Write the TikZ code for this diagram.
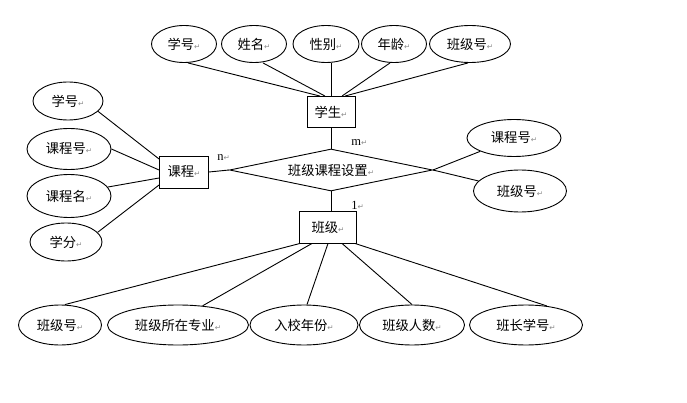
\documentclass[tikz,border=0pt]{standalone}
\usepackage{fontspec}
\setmainfont{Noto Sans CJK SC}
\newfontfamily\dejavu{DejaVu Sans}
\newfontfamily\serifl{Liberation Serif}
\usetikzlibrary{shapes.geometric}
\newcommand{\retmk}{{\fontsize{7.5}{8}\selectfont\dejavu\color{black!45}↵}}
\begin{document}
\begin{tikzpicture}[x=1pt,y=-1pt,line width=0.9pt,
  every node/.style={font=\fontsize{13.3}{16}\selectfont},
  attr/.style={ellipse,draw,inner sep=0pt},
  ent/.style={rectangle,draw,inner sep=0pt},
  rel/.style={diamond,draw,aspect=4.8,inner sep=0pt},
  card/.style={anchor=west,inner sep=0pt,font=\fontsize{12.5}{13}\selectfont\serifl}]
\useasboundingbox (0,0) rectangle (687,403);
% entities
\node[ent,minimum width=48pt,minimum height=31pt] (xs) at (331,112) {学生\retmk};
\node[ent,minimum width=49pt,minimum height=32pt] (kc) at (184,172) {课程\retmk};
\node[ent,minimum width=57pt,minimum height=32pt] (bj) at (328,227) {班级\retmk};
\node[rel,minimum width=203pt,minimum height=42pt] (sz) at (331,170) {班级课程设置\retmk};
% top attributes
\node[attr,minimum width=65pt,minimum height=37pt] (t1) at (184,44) {学号\retmk};
\node[attr,minimum width=65pt,minimum height=37pt] (t2) at (254,44) {姓名\retmk};
\node[attr,minimum width=66pt,minimum height=37pt] (t3) at (326,44) {性别\retmk};
\node[attr,minimum width=65pt,minimum height=37pt] (t4) at (394,44) {年龄\retmk};
\node[attr,minimum width=81pt,minimum height=37pt] (t5) at (470,44) {班级号\retmk};
% left attributes
\node[attr,minimum width=70pt,minimum height=38pt] (l1) at (68,101) {学号\retmk};
\node[attr,minimum width=84pt,minimum height=41pt] (l2) at (69,149) {课程号\retmk};
\node[attr,minimum width=84pt,minimum height=43pt] (l3) at (69,196) {课程名\retmk};
\node[attr,minimum width=72pt,minimum height=38pt] (l4) at (66,242) {学分\retmk};
% right attributes
\node[attr,minimum width=94pt,minimum height=37pt] (r1) at (514,138) {课程号\retmk};
\node[attr,minimum width=93pt,minimum height=42pt] (r2) at (520,191) {班级号\retmk};
% bottom attributes
\node[attr,minimum width=83pt,minimum height=40pt] (b1) at (60,325) {班级号\retmk};
\node[attr,minimum width=141pt,minimum height=40pt] (b2) at (178,325) {班级所在专业\retmk};
\node[attr,minimum width=108pt,minimum height=40pt] (b3) at (304,325) {入校年份\retmk};
\node[attr,minimum width=105pt,minimum height=40pt] (b4) at (412,325) {班级人数\retmk};
\node[attr,minimum width=113pt,minimum height=40pt] (b5) at (526,325) {班长学号\retmk};
% cardinalities
\node[card] (cn) at (217,158) {n\retmk};
\node[card] (cm) at (351,143) {m\retmk};
\node[card] (c1) at (351,205) {1\retmk};
% connectors top
\draw ([xshift=4pt]t1.south) -- ([xshift=-11pt]xs.north);
\draw ([xshift=9pt]t2.south) -- ([xshift=-6pt]xs.north);
\draw (xs.north) -- (xs.north |- t3.south);
\draw ([xshift=-4pt]t4.south) -- ([xshift=11pt]xs.north);
\draw ([xshift=-2pt]t5.south) -- ([xshift=14pt]xs.north);
% connectors left
\draw (l1.-19) -- ([yshift=13pt]kc.west);
\draw (l2.east) -- ([yshift=2pt]kc.west);
\draw (l3.13) -- ([yshift=-6pt]kc.west);
\draw (l4.17) -- ([yshift=-13pt]kc.west);
% center
\draw (kc.east) -- (sz.west);
\draw (xs.south) -- (sz.north);
\draw (sz.south) -- (sz.south |- bj.north);
\draw (sz.east) -- (r1);
\draw (sz.east) -- (r2);
% bottom
\draw ([xshift=-28pt]bj.south) -- ([xshift=5pt]b1.north);
\draw ([xshift=-16pt]bj.south) -- (b2.38);
\draw (bj.south) -- ([xshift=3pt]b3.north);
\draw ([xshift=14pt]bj.south) -- (b4.north);
\draw ([xshift=27pt]bj.south) -- (b5.42);
\end{tikzpicture}
\end{document}
